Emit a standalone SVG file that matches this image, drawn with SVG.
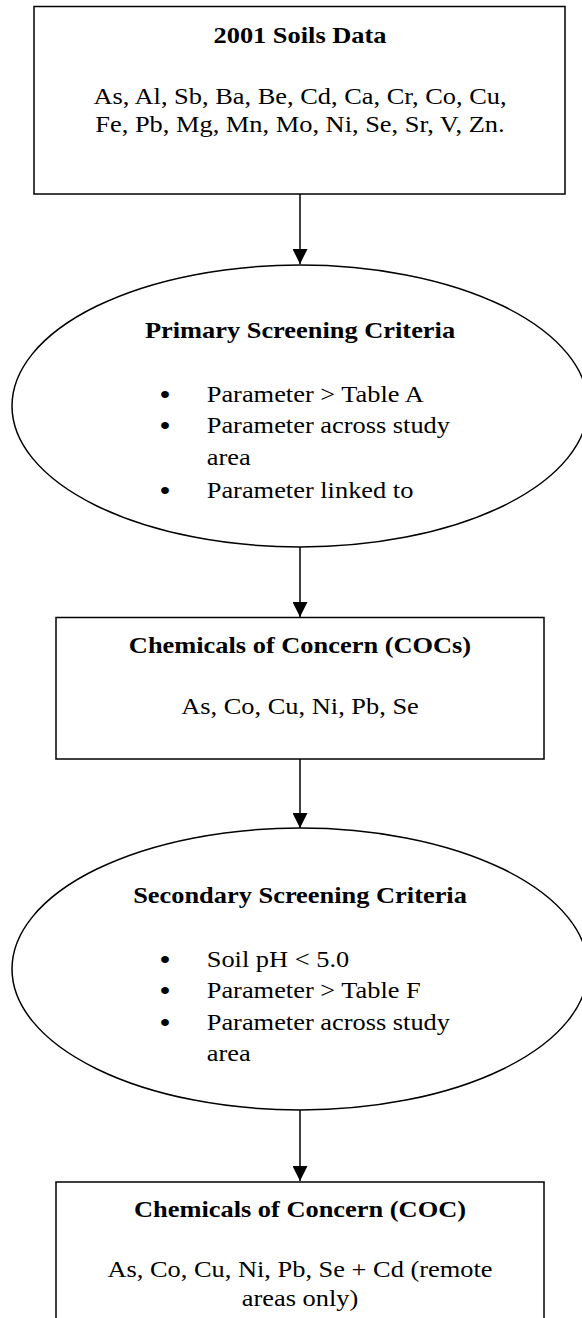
<svg xmlns="http://www.w3.org/2000/svg" width="582" height="1318" viewBox="0 0 582 1318">
<defs>
<style>
.shape{fill:#fff;stroke:#000;stroke-width:1.5}
text{font-family:'Liberation Serif','Times New Roman',Tinos,Times,serif;font-size:24px;fill:#000}
.b{font-weight:bold}
.c{text-anchor:middle}
.bul{font-size:26px;font-weight:bold}
.conn line{stroke:#000;stroke-width:1.5}
</style>
<marker id="ah" markerUnits="userSpaceOnUse" viewBox="0 0 15 15" markerWidth="15" markerHeight="15" refX="15" refY="7.5" orient="auto">
<path d="M0,0 L15,7.5 L0,15 Z" fill="#000"/>
</marker>
</defs>
<rect width="582" height="1318" fill="#fff"/>

<g id="connectors" class="conn">
<line x1="300" y1="194" x2="300" y2="264" marker-end="url(#ah)"/>
<line x1="300" y1="547" x2="300" y2="617" marker-end="url(#ah)"/>
<line x1="300" y1="759" x2="300" y2="828" marker-end="url(#ah)"/>
<line x1="300" y1="1110" x2="300" y2="1181" marker-end="url(#ah)"/>
</g>

<g id="soils-data">
<rect class="shape" x="34" y="6.5" width="531" height="187.5"/>
<g transform="matrix(1.1 0 0 1 300 0)">
<text class="b c" x="0" y="43">2001 Soils Data</text>
<text class="c" x="0" y="104">As, Al, Sb, Ba, Be, Cd, Ca, Cr, Co, Cu,</text>
<text class="c" x="0" y="132">Fe, Pb, Mg, Mn, Mo, Ni, Se, Sr, V, Zn.</text>
</g>
</g>

<g id="primary-screening">
<ellipse class="shape" cx="300" cy="406" rx="288" ry="141"/>
<g transform="matrix(1.1 0 0 1 300 0)">
<text class="b c" x="0" y="338">Primary Screening Criteria</text>
<text class="bul c" x="-122.7" y="403">•</text>
<text x="-84.8" y="402">Parameter &gt; Table A</text>
<text class="bul c" x="-122.7" y="434">•</text>
<text x="-84.8" y="433">Parameter across study</text>
<text x="-84.8" y="465">area</text>
<text class="bul c" x="-122.7" y="499">•</text>
<text x="-84.8" y="498">Parameter linked to</text>
</g>
</g>

<g id="cocs">
<rect class="shape" x="56" y="617.5" width="488" height="141.5"/>
<g transform="matrix(1.1 0 0 1 300 0)">
<text class="b c" x="0" y="653">Chemicals of Concern (COCs)</text>
<text class="c" x="0" y="714">As, Co, Cu, Ni, Pb, Se</text>
</g>
</g>

<g id="secondary-screening">
<ellipse class="shape" cx="300" cy="969" rx="288" ry="141"/>
<g transform="matrix(1.1 0 0 1 300 0)">
<text class="b c" x="0" y="903">Secondary Screening Criteria</text>
<text class="bul c" x="-122.7" y="968">•</text>
<text x="-84.8" y="967">Soil pH &lt; 5.0</text>
<text class="bul c" x="-122.7" y="999">•</text>
<text x="-84.8" y="998">Parameter &gt; Table F</text>
<text class="bul c" x="-122.7" y="1031">•</text>
<text x="-84.8" y="1030">Parameter across study</text>
<text x="-84.8" y="1061">area</text>
</g>
</g>

<g id="coc-final">
<rect class="shape" x="56" y="1182" width="488" height="150"/>
<g transform="matrix(1.1 0 0 1 300 0)">
<text class="b c" x="0" y="1217">Chemicals of Concern (COC)</text>
<text class="c" x="0" y="1277">As, Co, Cu, Ni, Pb, Se + Cd (remote</text>
<text class="c" x="0" y="1306">areas only)</text>
</g>
</g>
</svg>
